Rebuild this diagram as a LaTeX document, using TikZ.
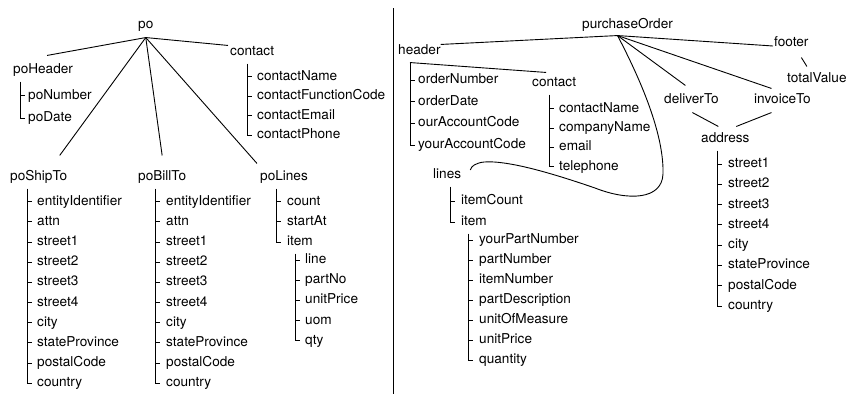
\documentclass[tikz,border=0pt]{standalone}
\usepackage{fontspec}
\setmainfont{TeX Gyre Heros}
\usepackage{tikz}
\usetikzlibrary{calc}

% bracket from a parent down its list of children
% #1 parent, #2 child prefix, #3 number of children, #4 gap line -> text
\newcommand{\childbracket}[4]{%
  \draw[branch] ($(#21.west |- #1.south)+(-#4,5)$) |- ($(#2#3.west)+(-#4+5,0)$);
  \foreach \k in {1,...,#3}{\draw[branch] ($(#2\k.west)+(-#4,0)$) -- +(5,0);}
}

\begin{document}
\begin{tikzpicture}[x=1pt, y=-1pt,
    elem/.style={anchor=west, inner sep=0pt, text height=9.8pt, text depth=2.9pt,
                 font=\fontsize{13.6}{16}\selectfont},
    link/.style={line width=0.9pt},
    branch/.style={line width=0.9pt}
]
    \useasboundingbox (0,0) rectangle (849,394);

    % === PO (left) ===
    \node[elem] (po) at (138, 25) {po};
    \coordinate (poHub) at ($(po.south)+(0,6)$);
    \node[elem] (poHeader) at (13, 70) {poHeader};
    \node[elem] (poContact) at (230, 52) {contact};
    \node[elem] (poShipTo) at (10, 177) {poShipTo};
    \node[elem] (poBillTo) at (138, 177) {poBillTo};
    \node[elem] (poLines) at (260, 177) {poLines};

    \draw[link] ($(poHeader.north)+(4,-8)$) -- (poHub) -- ($(poContact.north west)+(-2,0)$);
    \draw[link] (poHub) -- ($(poShipTo.north)+(21,-15)$);
    \draw[link] (poHub) -- ($(poBillTo.north)+(0,-15)$);
    \draw[link] (poHub) -- ($(poLines.north west)+(-3,-7)$);

    % children
    \foreach \t [count=\i] in {poNumber, poDate}
        \node[elem] (hdr\i) at (28, 73.4+22.4*\i) {\t};
    \foreach \t [count=\i] in {contactName, contactFunctionCode, contactEmail, contactPhone}
        \node[elem] (pcon\i) at (257, 57.5+19.4*\i) {\t};
    \foreach \t [count=\i] in {entityIdentifier, attn, street1, street2, street3, street4,
                               city, stateProvince, postalCode, country}{
        \node[elem] (ship\i) at (37, 181.5+20.18*\i) {\t};
        \node[elem] (bill\i) at (166, 181.5+20.18*\i) {\t};
    }
    \foreach \t [count=\i] in {count, startAt, item}
        \node[elem] (pln\i) at (287, 181.5+20.2*\i) {\t};
    \foreach \t [count=\i] in {line, partNo, unitPrice, uom, qty}
        \node[elem] (pitm\i) at (305, 239.8+20.2*\i) {\t};

    \childbracket{poHeader}{hdr}{2}{8}
    \childbracket{poContact}{pcon}{4}{10}
    \childbracket{poShipTo}{ship}{10}{10}
    \childbracket{poBillTo}{bill}{10}{11}
    \childbracket{poLines}{pln}{3}{11}
    \childbracket{pln3}{pitm}{5}{10}

    % === SEPARATOR ===
    \draw[link] (393.5, 8) -- (393.5, 394);

    % === PURCHASE ORDER (right) ===
    \node[elem] (purchaseOrder) at (582, 25) {purchaseOrder};
    \coordinate (orderHub) at ($(purchaseOrder.south)+(-10,4)$);
    \node[elem] (header) at (398, 51) {header};
    \node[elem] (footer) at (774, 43) {footer};
    \node[elem] (totalValue) at (787, 79) {totalValue};
    \node[elem] (contact) at (532, 83) {contact};
    \node[elem] (deliverTo) at (664, 100) {deliverTo};
    \node[elem] (invoiceTo) at (754, 100) {invoiceTo};
    \node[elem] (address) at (701, 139) {address};
    \node[elem] (lines) at (433, 175) {lines};

    \draw[link] (header.north east) -- (orderHub) -- ($(footer.west)+(-1,3)$);
    \draw[link] (orderHub) -- ($(deliverTo.north)+(-6,-8)$);
    \draw[link] (orderHub) -- ($(invoiceTo.north)+(-11,-5)$);
    \draw[link] (orderHub) .. controls (645,88) and (664,138) .. (663,174)
        .. controls (662,200) and (628,201) .. (595,188)
        .. controls (560,176) and (510,160) .. (484,162)
        .. controls (476,163) and (471,166) .. ($(lines.east)+(9,-5)$);
    \draw[link] ($(footer.south)+(10,8)$) -- ($(totalValue.north)+(-10,-6)$);
    \draw[link] ($(deliverTo.south)+(1,6)$) -- ($(address.north)+(-7,-6)$);
    \draw[link] ($(invoiceTo.south)+(-11,6)$) -- ($(address.north)+(11,-6)$);

    % children
    \foreach \t [count=\i] in {orderNumber, orderDate, ourAccountCode, yourAccountCode}
        \node[elem] (ord\i) at (418, 58.3+21.7*\i) {\t};
    \foreach \t [count=\i] in {contactName, companyName, email, telephone}
        \node[elem] (con\i) at (559, 89.5+19.3*\i) {\t};
    \foreach \t [count=\i] in {itemCount, item}
        \node[elem] (lns\i) at (461, 180+21*\i) {\t};
    \foreach \t [count=\i] in {yourPartNumber, partNumber, itemNumber, partDescription,
                               unitOfMeasure, unitPrice, quantity}
        \node[elem] (itm\i) at (479, 220+20*\i) {\t};
    \foreach \t [count=\i] in {street1, street2, street3, street4, city, stateProvince,
                               postalCode, country}
        \node[elem] (addr\i) at (728, 143.7+20.3*\i) {\t};

    \childbracket{header}{ord}{4}{8}
    \draw[link] ($(ord1.west |- header.south)+(-8,5)$) -- ($(contact.north)+(-8,-4)$);
    \childbracket{contact}{con}{4}{10}
    \childbracket{lines}{lns}{2}{11}
    \childbracket{lns2}{itm}{7}{11}
    \childbracket{address}{addr}{8}{11}

\end{tikzpicture}
\end{document}
